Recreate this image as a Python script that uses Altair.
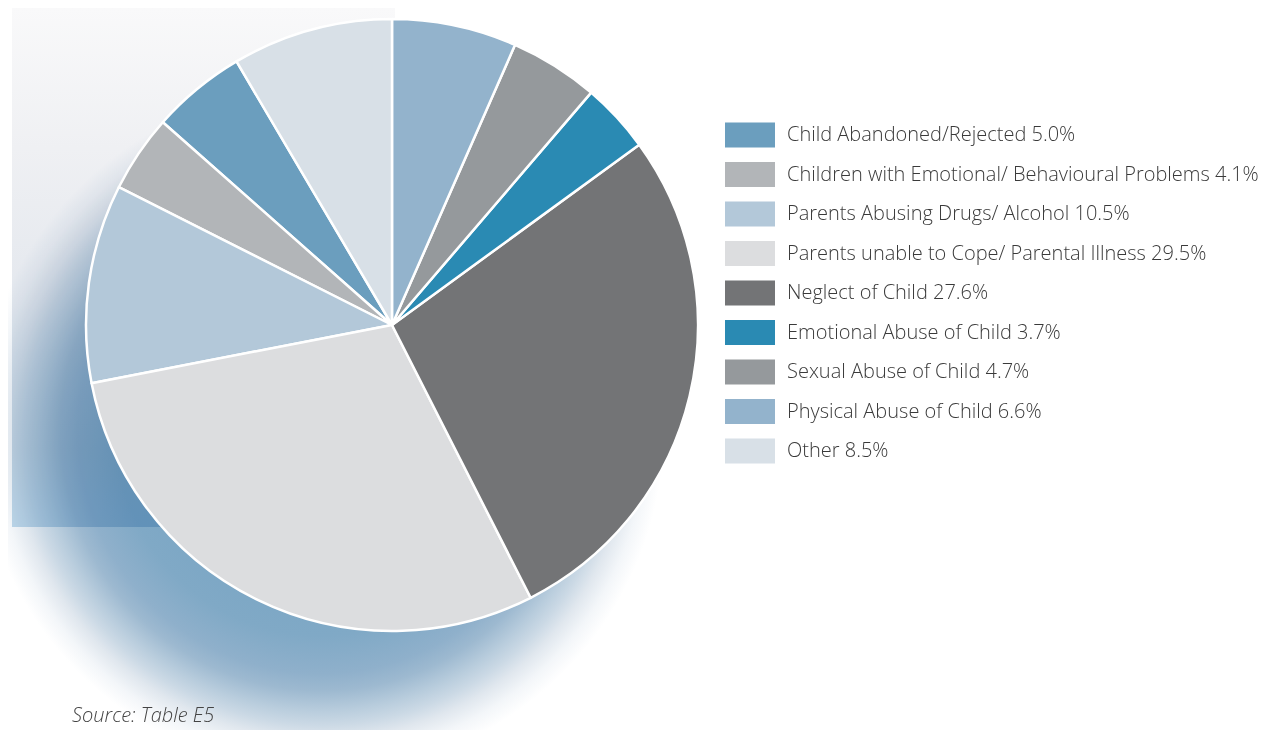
import math
import altair as alt
import pandas as pd

# ---- data (legend order) ----
categories = [
    "Child Abandoned/Rejected",
    "Children with Emotional/ Behavioural Problems",
    "Parents Abusing Drugs/ Alcohol",
    "Parents unable to Cope/ Parental Illness",
    "Neglect of Child",
    "Emotional Abuse of Child",
    "Sexual Abuse of Child",
    "Physical Abuse of Child",
    "Other",
]
percents = [5.0, 4.1, 10.5, 29.5, 27.6, 3.7, 4.7, 6.6, 8.5]
# clockwise position of each slice starting at 12 o'clock
pie_position = [7, 6, 5, 4, 3, 2, 1, 0, 8]
colors = ["#6b9ebe", "#b2b5b8", "#b3c8d9", "#dcdddf", "#737476",
          "#2a8ab3", "#95999c", "#93b3cc", "#d8e0e7"]
source_note = ["Source: Table E5"]

labels = [f"{c} {p:.1f}%" for c, p in zip(categories, percents)]
df = pd.DataFrame({
    "category": categories,
    "pct": percents,
    "pos": pie_position,
    "label": labels,
    "idx": list(range(len(categories))),
})

FONT = "Open Sans"

color_enc = alt.Color("label:N", scale=alt.Scale(domain=labels, range=colors), legend=None)

one = pd.DataFrame({"k": [0]})

bg_gradient = {
    "gradient": "linear", "x1": 0, "y1": 0, "x2": 0, "y2": 1,
    "stops": [
        {"offset": 0.0, "color": "#f9f9fa"},
        {"offset": 0.27, "color": "#eff0f3"},
        {"offset": 0.56, "color": "#e4e8ee"},
        {"offset": 0.85, "color": "#cddde9"},
        {"offset": 1.0, "color": "#c4ddee"},
    ],
}
background = alt.Chart(one).mark_rect(fill=bg_gradient).encode(
    x=alt.value(4), x2=alt.value(387), y=alt.value(0), y2=alt.value(519)
)

shadow_gradient = {
    "gradient": "radial",
    "x1": 0.5, "y1": 0.5, "r1": 0,
    "x2": 0.5, "y2": 0.5, "r2": 0.5,
    "stops": [
        {"offset": 0.0, "color": "#6d9ec0"},
        {"offset": 0.6, "color": "#80a9c6"},
        {"offset": 0.71, "color": "#8fb0cb"},
        {"offset": 0.76, "color": "#9db9d0"},
        {"offset": 0.82, "color": "#b9cddd"},
        {"offset": 0.86, "color": "#cbd9e5"},
        {"offset": 0.90, "color": "#e0e7ee"},
        {"offset": 0.95, "color": "#f3f6f9"},
        {"offset": 1.0, "color": "#ffffff"},
    ],
}
shadow = alt.Chart(one).mark_arc(
    theta=0, theta2=2 * math.pi, outerRadius=343, fill=shadow_gradient, blend="multiply"
).encode(x=alt.value(313), y=alt.value(422))

pie = alt.Chart(df).mark_arc(
    outerRadius=306, stroke="white", strokeWidth=2.5, strokeJoin="round"
).encode(
    theta=alt.Theta("pct:Q", stack=True),
    color=color_enc,
    order=alt.Order("pos:Q"),
    x=alt.value(384),
    y=alt.value(317),
)

yscale = alt.Scale(type="point", range=[127, 443], padding=0)

swatches = alt.Chart(df).mark_point(
    shape="M-1,-0.5H1V0.5H-1Z", size=2500, filled=True, opacity=1, strokeWidth=0
).encode(
    x=alt.value(742),
    y=alt.Y("idx:O", scale=yscale, axis=None),
    color=color_enc,
)

legend_text = alt.Chart(df).mark_text(
    align="left", baseline="middle", font=FONT, fontSize=20, fontWeight=300, color="#3a3a3a"
).encode(
    x=alt.value(779),
    y=alt.Y("idx:O", scale=yscale, axis=None),
    text="label:N",
)

source = alt.Chart(pd.DataFrame({"t": source_note})).mark_text(
    align="left", baseline="middle", font=FONT, fontSize=20, fontStyle="italic",
    fontWeight=300, color="#444444"
).encode(x=alt.value(64), y=alt.value(708), text="t:N")

chart = alt.layer(background, shadow, pie, swatches, legend_text, source).properties(
    width=1256, height=722, autosize="none", padding=0
).configure_view(stroke=None)

chart.save("out.html", embed_options={"renderer": "svg", "actions": False})
